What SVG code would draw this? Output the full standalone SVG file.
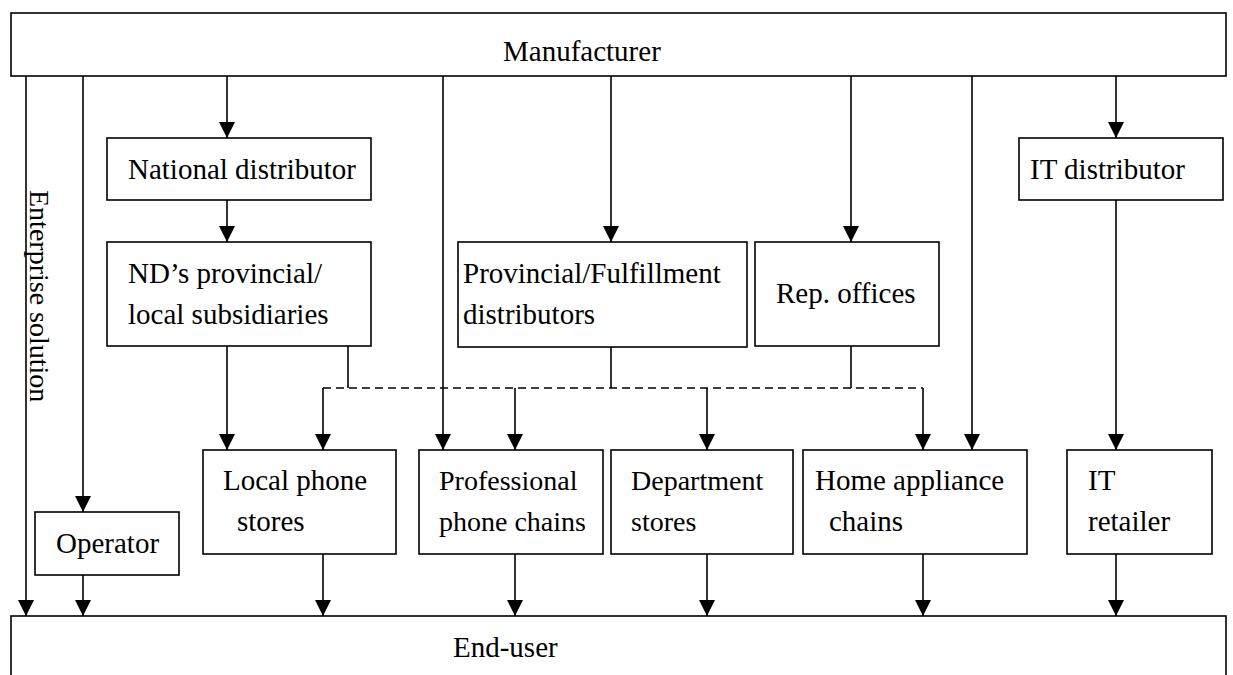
<svg xmlns="http://www.w3.org/2000/svg" width="1233" height="675" viewBox="0 0 1233 675">
  <style>
    .box { fill: #ffffff; stroke: #000000; stroke-width: 1.6; }
    .lbl { font-family: "Liberation Serif", "Times New Roman", serif; font-size: 29px; fill: #000000; }
    .sm { font-size: 28px; }
    .wire { fill: none; stroke: #000000; stroke-width: 1.6; }
    .arrow { marker-end: url(#head); }
    .dash { stroke-dasharray: 8 5; }
  </style>
  <defs>
    <marker id="head" markerUnits="userSpaceOnUse" markerWidth="16" markerHeight="16" viewBox="0 0 16 16" refX="16" refY="8" orient="auto">
      <path d="M0,0 L16,8 L0,16 Z" fill="#000000"/>
    </marker>
  </defs>

  <rect width="1233" height="675" fill="#ffffff"/>

  <!-- connectors -->
  <g id="connectors">
    <!-- enterprise solution straight to end-user -->
    <line class="wire arrow" x1="26" y1="76" x2="26" y2="616"/>
    <!-- manufacturer to operator, operator to end-user -->
    <line class="wire arrow" x1="83" y1="76" x2="83" y2="512"/>
    <line class="wire arrow" x1="83" y1="575" x2="83" y2="616"/>
    <!-- national distributor chain -->
    <line class="wire arrow" x1="227" y1="76" x2="227" y2="138"/>
    <line class="wire arrow" x1="227" y1="200" x2="227" y2="242"/>
    <line class="wire arrow" x1="227" y1="346" x2="227" y2="450"/>
    <!-- direct lines to chains -->
    <line class="wire arrow" x1="443" y1="76" x2="443" y2="450"/>
    <line class="wire arrow" x1="972" y1="76" x2="972" y2="450"/>
    <!-- provincial / rep offices -->
    <line class="wire arrow" x1="611" y1="76" x2="611" y2="242"/>
    <line class="wire arrow" x1="851" y1="76" x2="851" y2="242"/>
    <!-- IT channel -->
    <line class="wire arrow" x1="1116" y1="76" x2="1116" y2="138"/>
    <line class="wire arrow" x1="1116" y1="200" x2="1116" y2="450"/>
    <!-- tails into the shared dashed bus -->
    <line class="wire" x1="348" y1="346" x2="348" y2="388"/>
    <line class="wire" x1="611" y1="347" x2="611" y2="388"/>
    <line class="wire" x1="851" y1="346" x2="851" y2="388"/>
    <line class="wire dash" x1="323" y1="388" x2="923" y2="388"/>
    <!-- bus drops to retail boxes -->
    <line class="wire arrow" x1="323" y1="388" x2="323" y2="450"/>
    <line class="wire arrow" x1="515" y1="388" x2="515" y2="450"/>
    <line class="wire arrow" x1="707" y1="388" x2="707" y2="450"/>
    <line class="wire arrow" x1="923" y1="388" x2="923" y2="450"/>
    <!-- retail to end-user -->
    <line class="wire arrow" x1="323" y1="554" x2="323" y2="616"/>
    <line class="wire arrow" x1="515" y1="554" x2="515" y2="616"/>
    <line class="wire arrow" x1="707" y1="554" x2="707" y2="616"/>
    <line class="wire arrow" x1="923" y1="554" x2="923" y2="616"/>
    <line class="wire arrow" x1="1116" y1="554" x2="1116" y2="616"/>
  </g>

  <text class="lbl sm" transform="translate(30,190) rotate(90)">Enterprise solution</text>

  <g id="manufacturer">
    <rect class="box" x="11" y="13" width="1215" height="63"/>
    <text class="lbl" x="503" y="61">Manufacturer</text>
  </g>

  <g id="national-distributor">
    <rect class="box" x="107" y="138" width="264" height="62"/>
    <text class="lbl" x="128" y="179">National distributor</text>
  </g>

  <g id="nd-subsidiaries">
    <rect class="box" x="107" y="242" width="264" height="104"/>
    <text class="lbl" x="128" y="283">ND’s provincial/</text>
    <text class="lbl" x="128" y="324">local subsidiaries</text>
  </g>

  <g id="provincial-distributors">
    <rect class="box" x="458" y="242" width="289" height="105"/>
    <text class="lbl" x="463" y="283">Provincial/Fulfillment</text>
    <text class="lbl" x="463" y="324">distributors</text>
  </g>

  <g id="rep-offices">
    <rect class="box" x="755" y="242" width="184" height="104"/>
    <text class="lbl" x="776" y="303">Rep. offices</text>
  </g>

  <g id="it-distributor">
    <rect class="box" x="1019" y="138" width="204" height="62"/>
    <text class="lbl" x="1030" y="179">IT distributor</text>
  </g>

  <g id="operator">
    <rect class="box" x="35" y="512" width="144" height="63"/>
    <text class="lbl" x="56" y="553">Operator</text>
  </g>

  <g id="local-phone-stores">
    <rect class="box" x="203" y="450" width="193" height="104"/>
    <text class="lbl" x="223" y="490">Local phone</text>
    <text class="lbl" x="237" y="531">stores</text>
  </g>

  <g id="professional-phone-chains">
    <rect class="box" x="419" y="450" width="184" height="104"/>
    <text class="lbl sm" x="439" y="490">Professional</text>
    <text class="lbl sm" x="439" y="531">phone chains</text>
  </g>

  <g id="department-stores">
    <rect class="box" x="611" y="450" width="182" height="104"/>
    <text class="lbl sm" x="631" y="490">Department</text>
    <text class="lbl sm" x="631" y="531">stores</text>
  </g>

  <g id="home-appliance-chains">
    <rect class="box" x="803" y="450" width="224" height="104"/>
    <text class="lbl" x="815" y="490">Home appliance</text>
    <text class="lbl" x="829" y="531">chains</text>
  </g>

  <g id="it-retailer">
    <rect class="box" x="1067" y="450" width="145" height="104"/>
    <text class="lbl" x="1088" y="490">IT</text>
    <text class="lbl" x="1088" y="531">retailer</text>
  </g>

  <g id="end-user">
    <rect class="box" x="11" y="616" width="1215" height="80"/>
    <text class="lbl" x="453" y="657">End-user</text>
  </g>
</svg>
